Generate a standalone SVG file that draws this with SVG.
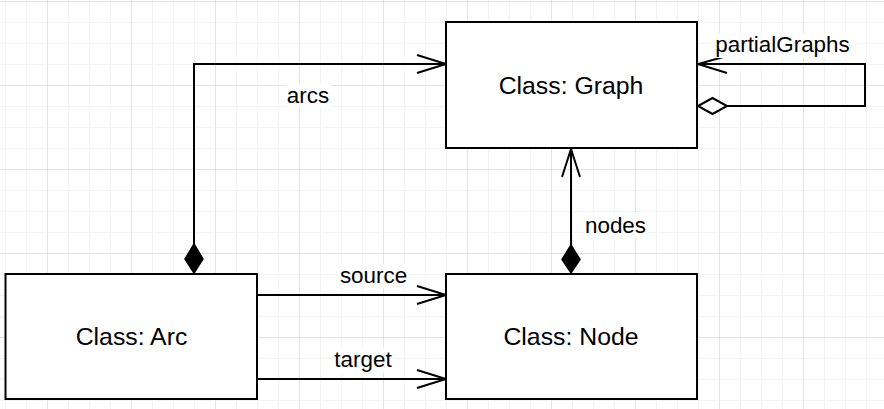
<svg xmlns="http://www.w3.org/2000/svg" width="884" height="409" viewBox="0 0 884 409">
  <style>
    .box { fill: #ffffff; stroke: #000000; stroke-width: 2; }
    .title { font-family: "Liberation Sans", Arial, sans-serif; font-size: 24.8px; fill: #000000; text-anchor: middle; }
    .lbl { font-family: "Liberation Sans", Arial, sans-serif; font-size: 22.4px; fill: #000000; }
    .edge { fill: none; stroke: #000000; stroke-width: 2; }
    .head { fill: none; stroke: #000000; stroke-width: 2; stroke-linejoin: miter; }
    .fdia { fill: #000000; stroke: #000000; stroke-width: 1.5; }
    .odia { fill: #ffffff; stroke: #000000; stroke-width: 2; }
    .lblbg { fill: #ffffff; }
  </style>
  <defs>
    <pattern id="grid" x="47" y="1" width="84" height="84" patternUnits="userSpaceOnUse">
      <rect x="21" y="0" width="1" height="84" fill="#f3f3f3"/>
      <rect x="42" y="0" width="1" height="84" fill="#f3f3f3"/>
      <rect x="63" y="0" width="1" height="84" fill="#f3f3f3"/>
      <rect x="0" y="21" width="84" height="1" fill="#f3f3f3"/>
      <rect x="0" y="42" width="84" height="1" fill="#f3f3f3"/>
      <rect x="0" y="63" width="84" height="1" fill="#f3f3f3"/>
      <rect x="0" y="0" width="1" height="84" fill="#e3e3e3"/>
      <rect x="0" y="0" width="84" height="1" fill="#e3e3e3"/>
    </pattern>
  </defs>
  <rect x="0" y="0" width="884" height="409" fill="#ffffff"/>
  <rect x="0" y="0" width="884" height="409" fill="url(#grid)"/>

  <g id="connectors">
    <g id="edge-arcs">
      <path class="edge" d="M194 244 V64 H445"/>
      <path class="head" d="M417 55 L446 64 L417 73"/>
      <polygon class="fdia" points="194,244 203,259 194,273 185,259"/>
      <rect class="lblbg" x="286" y="84" width="45" height="24"/>
      <text class="lbl" x="308" y="103" text-anchor="middle">arcs</text>
    </g>
    <g id="edge-nodes">
      <path class="edge" d="M571 245 V149"/>
      <path class="head" d="M562 177 L571 149 L580 177"/>
      <polygon class="fdia" points="571,245 580,259.5 571,273 562,259.5"/>
      <rect class="lblbg" x="583" y="213" width="64" height="25"/>
      <text class="lbl" x="585" y="233">nodes</text>
    </g>
    <g id="edge-partialGraphs">
      <path class="edge" d="M727 106 H865 V64 H699"/>
      <path class="head" d="M727 56 L698 64 L727 73"/>
      <polygon class="odia" points="698,106 712.5,98 727,106 712.5,114"/>
      <rect class="lblbg" x="712" y="33" width="141" height="25"/>
      <text class="lbl" x="782.5" y="52" text-anchor="middle">partialGraphs</text>
    </g>
    <g id="edge-source">
      <path class="edge" d="M257 295 H445"/>
      <path class="head" d="M417 286 L446 295 L417 304"/>
      <rect class="lblbg" x="338" y="264" width="71" height="24"/>
      <text class="lbl" x="373.5" y="282.5" text-anchor="middle">source</text>
    </g>
    <g id="edge-target">
      <path class="edge" d="M257 379 H445"/>
      <path class="head" d="M417 370 L446 379 L417 388"/>
      <rect class="lblbg" x="332" y="348" width="62" height="25"/>
      <text class="lbl" x="363" y="366.5" text-anchor="middle">target</text>
    </g>
  </g>

  <g id="node-graph">
    <rect class="box" x="446" y="22" width="251" height="126"/>
    <text class="title" x="571" y="93.5">Class: Graph</text>
  </g>
  <g id="node-node">
    <rect class="box" x="446" y="274" width="251" height="125"/>
    <text class="title" x="571" y="345">Class: Node</text>
  </g>
  <g id="node-arc">
    <rect class="box" x="5.5" y="274" width="251.5" height="125"/>
    <text class="title" x="131.5" y="345">Class: Arc</text>
  </g>
</svg>
